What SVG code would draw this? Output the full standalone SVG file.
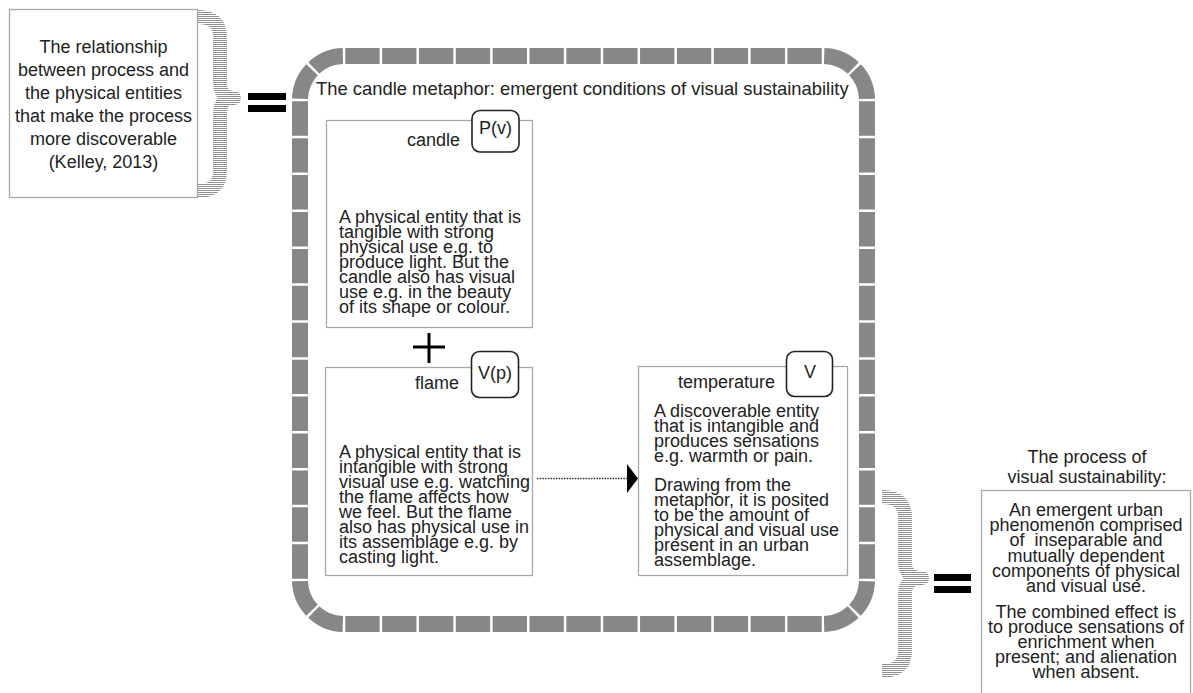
<svg xmlns="http://www.w3.org/2000/svg" width="1193" height="693" viewBox="0 0 1193 693">
  <defs>
    <pattern id="hatch" patternUnits="userSpaceOnUse" width="10" height="2">
      <rect x="0" y="0" width="10" height="1" fill="#8f8f8f"/>
    </pattern>
    <marker id="tri" viewBox="0 0 11 29" refX="0" refY="14.5" markerWidth="11" markerHeight="29" markerUnits="userSpaceOnUse" orient="auto">
      <path d="M0,0 L11,14.5 L0,29 Z" fill="#000"/>
    </marker>
  </defs>
  <style>
    text { font-family: "Liberation Sans", Arial, sans-serif; fill: #222; }
    .t18 { font-size: 18px; }
    .mid { text-anchor: middle; }
    .end { text-anchor: end; }
    .box { fill: #fff; stroke: #a8a8a8; stroke-width: 1.3; }
    .tag { fill: #fff; stroke: #222; stroke-width: 1.6; }
    .seg { fill: none; stroke: #878787; stroke-width: 16; }
    .brace { fill: none; stroke: url(#hatch); stroke-width: 14; stroke-linejoin: round; }
    .eq { fill: #000; }
  </style>
  <rect x="0" y="0" width="1193" height="693" fill="#fff"/>

  <g id="source">
    <rect class="box" x="9.5" y="9.5" width="188" height="188"/>
    <text class="t18 mid" x="103.5" y="53">The relationship</text>
    <text class="t18 mid" x="103.5" y="76">between process and</text>
    <text class="t18 mid" x="103.5" y="99">the physical entities</text>
    <text class="t18 mid" x="103.5" y="122">that make the process</text>
    <text class="t18 mid" x="103.5" y="145">more discoverable</text>
    <text class="t18 mid" x="103.5" y="168">(Kelley, 2013)</text>
  </g>

  <g id="equals-left">
    <path class="brace" d="M198 17 Q220 17 220 37 L220 82 Q220 98 234 98 Q220 98 220 114 L220 171 Q220 191 198 191"/>
    <rect class="eq" x="248" y="93" width="38" height="7"/>
    <rect class="eq" x="248" y="105" width="38" height="7"/>
  </g>

  <g id="metaphor">
    <line class="seg" x1="345.25" y1="56" x2="821.75" y2="56" stroke-dasharray="34.35 2.5"/>
    <line class="seg" x1="345.25" y1="624" x2="821.75" y2="624" stroke-dasharray="34.35 2.5"/>
    <line class="seg" x1="300" y1="101.25" x2="300" y2="578.75" stroke-dasharray="34.42 2.5"/>
    <line class="seg" x1="867" y1="101.25" x2="867" y2="578.75" stroke-dasharray="34.42 2.5"/>
    <path class="seg" d="M300 100 A44 44 0 0 1 344 56" stroke-dasharray="0 1.25 32.06 2.5 32.06 1.25"/>
    <path class="seg" d="M823 56 A44 44 0 0 1 867 100" stroke-dasharray="0 1.25 32.06 2.5 32.06 1.25"/>
    <path class="seg" d="M867 580 A44 44 0 0 1 823 624" stroke-dasharray="0 1.25 32.06 2.5 32.06 1.25"/>
    <path class="seg" d="M344 624 A44 44 0 0 1 300 580" stroke-dasharray="0 1.25 32.06 2.5 32.06 1.25"/>
    <text x="316" y="95" style="font-size:18.4px">The candle metaphor: emergent conditions of visual sustainability</text>
  </g>

  <g id="candle">
    <rect class="box" x="326.5" y="120.5" width="206" height="207"/>
    <text class="t18 end" x="460" y="146">candle</text>
    <rect class="tag" x="472" y="110.5" width="47" height="41.5" rx="8"/>
    <text class="t18 mid" x="495.5" y="134">P(v)</text>
    <text class="t18" x="339" y="223">A physical entity that is</text>
    <text class="t18" x="339" y="238">tangible with strong</text>
    <text class="t18" x="339" y="253">physical use e.g. to</text>
    <text class="t18" x="339" y="268">produce light. But the</text>
    <text class="t18" x="339" y="283">candle also has visual</text>
    <text class="t18" x="339" y="298">use e.g. in the beauty</text>
    <text class="t18" x="339" y="313">of its shape or colour.</text>
  </g>

  <g id="plus">
    <rect class="eq" x="427.5" y="333" width="3" height="30"/>
    <rect class="eq" x="413" y="345.5" width="32" height="3"/>
  </g>

  <g id="flame">
    <rect class="box" x="325.5" y="367.5" width="207" height="208"/>
    <text class="t18 end" x="459" y="389">flame</text>
    <rect class="tag" x="471.5" y="351.5" width="47" height="46" rx="8"/>
    <text class="t18 mid" x="495" y="379">V(p)</text>
    <text class="t18" x="339" y="458">A physical entity that is</text>
    <text class="t18" x="339" y="473">intangible with strong</text>
    <text class="t18" x="339" y="488">visual use e.g. watching</text>
    <text class="t18" x="339" y="503">the flame affects how</text>
    <text class="t18" x="339" y="518">we feel. But the flame</text>
    <text class="t18" x="339" y="533">also has physical use in</text>
    <text class="t18" x="339" y="548">its assemblage e.g. by</text>
    <text class="t18" x="339" y="563">casting light.</text>
  </g>

  <g id="temperature">
    <rect class="box" x="638.5" y="366.5" width="209" height="209"/>
    <text class="t18 end" x="775" y="388">temperature</text>
    <rect class="tag" x="786.5" y="351.5" width="46" height="45" rx="8"/>
    <text class="t18 mid" x="810" y="378">V</text>
    <text class="t18" x="654" y="417">A discoverable entity</text>
    <text class="t18" x="654" y="432">that is intangible and</text>
    <text class="t18" x="654" y="447">produces sensations</text>
    <text class="t18" x="654" y="462">e.g. warmth or pain.</text>
    <text class="t18" x="654" y="491">Drawing from the</text>
    <text class="t18" x="654" y="506">metaphor, it is posited</text>
    <text class="t18" x="654" y="521">to be the amount of</text>
    <text class="t18" x="654" y="536">physical and visual use</text>
    <text class="t18" x="654" y="551">present in an urban</text>
    <text class="t18" x="654" y="566">assemblage.</text>
  </g>

  <g id="connectors">
    <line x1="537" y1="478.5" x2="627" y2="478.5" stroke="#333" stroke-width="1.3" stroke-dasharray="1.5 1.2" marker-end="url(#tri)"/>
  </g>

  <g id="equals-right">
    <path class="brace" d="M882 497 Q905 497 905 517 L905 562 Q905 578 922 578 Q905 578 905 594 L905 651 Q905 671 882 671"/>
    <rect class="eq" x="934" y="574" width="37" height="7"/>
    <rect class="eq" x="934" y="586" width="37" height="7"/>
  </g>

  <g id="process">
    <text class="t18 mid" x="1087" y="463">The process of</text>
    <text class="t18 mid" x="1087" y="483">visual sustainability:</text>
    <rect class="box" x="981.5" y="490.5" width="209" height="210"/>
    <text class="t18 mid" x="1086" y="516">An emergent urban</text>
    <text class="t18 mid" x="1086" y="531">phenomenon comprised</text>
    <text class="t18 mid" x="1086" y="546" xml:space="preserve">of  inseparable and</text>
    <text class="t18 mid" x="1086" y="562">mutually dependent</text>
    <text class="t18 mid" x="1086" y="577">components of physical</text>
    <text class="t18 mid" x="1086" y="592">and visual use.</text>
    <text class="t18 mid" x="1086" y="618">The combined effect is</text>
    <text class="t18 mid" x="1086" y="633">to produce sensations of</text>
    <text class="t18 mid" x="1086" y="648">enrichment when</text>
    <text class="t18 mid" x="1086" y="663">present; and alienation</text>
    <text class="t18 mid" x="1086" y="678">when absent.</text>
  </g>
</svg>
